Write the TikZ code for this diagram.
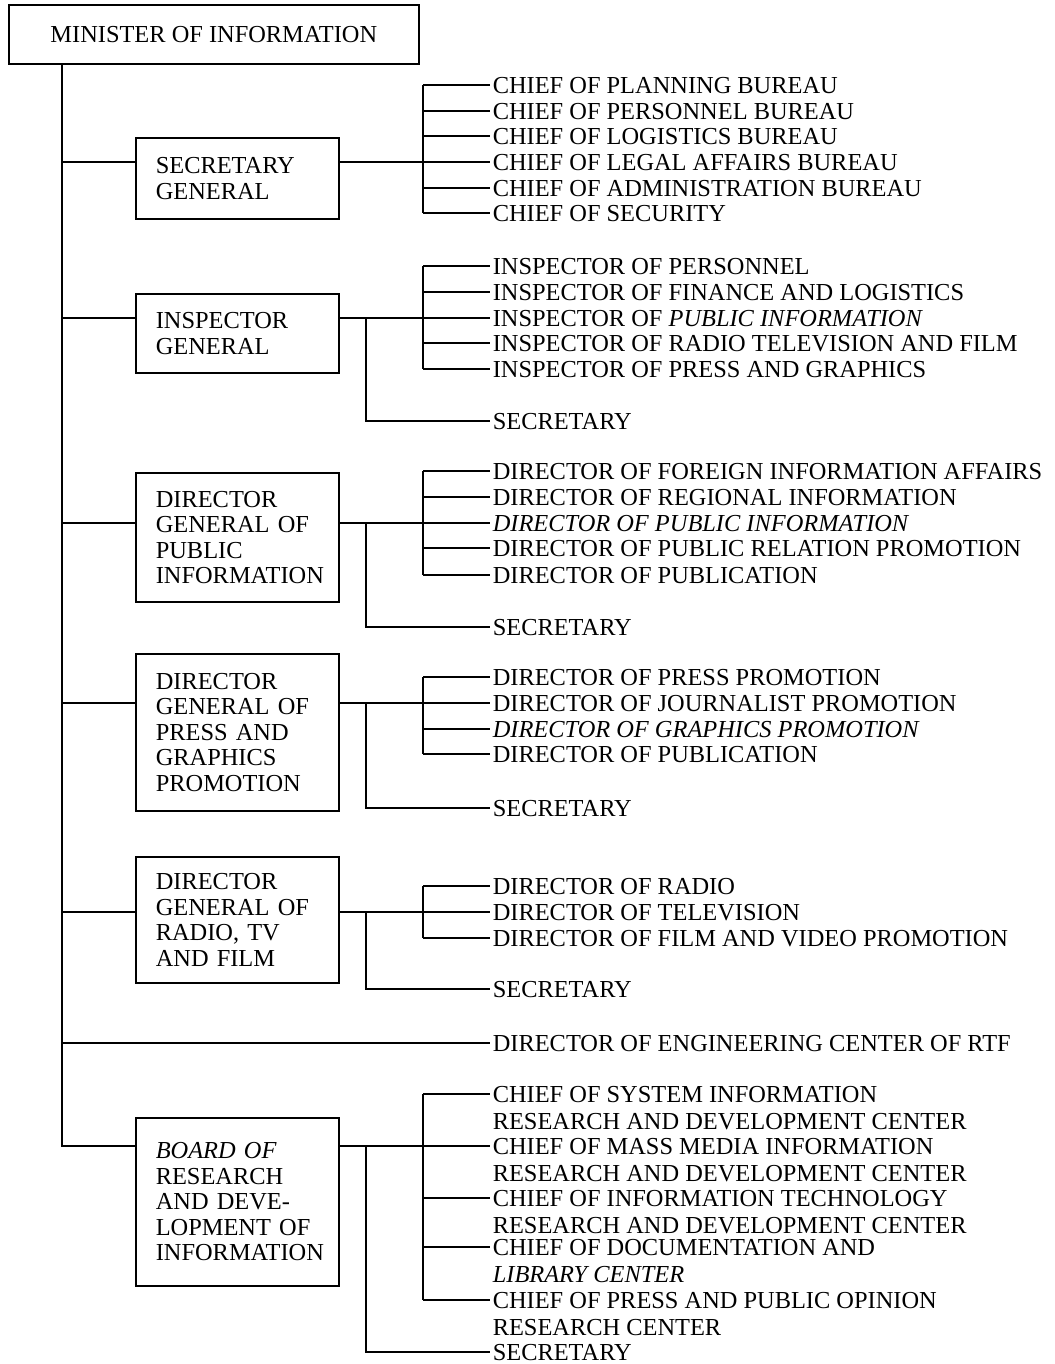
\documentclass[tikz,border=0pt]{standalone}
\usepackage{fontspec}
\setmainfont{Liberation Serif}
\usepackage{tikz}
\usetikzlibrary{positioning,calc}

\begin{document}
\begin{tikzpicture}[x=0.5pt, y=-0.5pt, line width=0.8pt,
    font=\fontsize{12.2}{12.75}\selectfont,
    office/.style={draw, anchor=north west, minimum width=101.5pt, text width=81.5pt, inner xsep=10pt, align=left},
    item/.style={anchor=west, inner xsep=1pt, inner ysep=2.45pt, text height=8.1pt, text depth=0pt},
    more/.style={item, anchor=north west}]
    \useasboundingbox (0,0) rectangle (1054,1364);

    % minister and trunk
    \node[draw, anchor=north west, minimum width=205pt, minimum height=29.5pt] (min) at (8,4) {MINISTER OF INFORMATION};
    \coordinate (trunk) at (62,0);
    \coordinate (br) at (423,0);
    \coordinate (sv) at (366,0);

    % secretary general
    \node[office, minimum height=40.5pt] (sg) at (135,137) {SECRETARY\\GENERAL};
    \foreach \n/\y/\txt in {1/85/CHIEF OF PLANNING BUREAU, 2/111/CHIEF OF PERSONNEL BUREAU,
        3/136/CHIEF OF LOGISTICS BUREAU, 4/162/CHIEF OF LEGAL AFFAIRS BUREAU,
        5/188/CHIEF OF ADMINISTRATION BUREAU, 6/213/CHIEF OF SECURITY} {
        \node[item] (sg\n) at (490,\y) {\txt};
        \draw (sg\n.west -| br) -- (sg\n.west);
    }
    \draw (sg1.west -| br) -- (sg6.west -| br);
    \draw (sg4.west -| trunk) -- (sg4.west -| sg.west);
    \draw (sg4.west -| sg.east) -- (sg4.west -| br);

    % inspector general
    \node[office, minimum height=39.5pt] (ig) at (135,293) {INSPECTOR\\GENERAL};
    \foreach \n/\y/\txt in {1/266/INSPECTOR OF PERSONNEL, 2/292/INSPECTOR OF FINANCE AND LOGISTICS,
        3/318/INSPECTOR OF \textit{PUBLIC INFORMATION}, 4/343/INSPECTOR OF RADIO TELEVISION AND FILM,
        5/369/INSPECTOR OF PRESS AND GRAPHICS} {
        \node[item] (ig\n) at (490,\y) {\txt};
        \draw (ig\n.west -| br) -- (ig\n.west);
    }
    \node[item] (igs) at (490,421) {SECRETARY};
    \draw (ig1.west -| br) -- (ig5.west -| br);
    \draw (ig3.west -| trunk) -- (ig3.west -| ig.west);
    \draw (ig3.west -| ig.east) -- (ig3.west -| br);
    \draw (ig3.west -| sv) |- (igs.west);

    % director general of public information
    \node[office, minimum height=64.5pt] (pi) at (135,472) {DIRECTOR\\GENERAL OF\\PUBLIC\\INFORMATION};
    \foreach \n/\y/\txt in {1/471/DIRECTOR OF FOREIGN INFORMATION AFFAIRS, 2/497/DIRECTOR OF REGIONAL INFORMATION,
        3/523/\textit{DIRECTOR OF PUBLIC INFORMATION}, 4/548/DIRECTOR OF PUBLIC RELATION PROMOTION,
        5/575/DIRECTOR OF PUBLICATION} {
        \node[item] (pi\n) at (490,\y) {\txt};
        \draw (pi\n.west -| br) -- (pi\n.west);
    }
    \node[item] (pis) at (490,627) {SECRETARY};
    \draw (pi1.west -| br) -- (pi5.west -| br);
    \draw (pi3.west -| trunk) -- (pi3.west -| pi.west);
    \draw (pi3.west -| pi.east) -- (pi3.west -| br);
    \draw (pi3.west -| sv) |- (pis.west);

    % director general of press and graphics promotion
    \node[office, minimum height=78.5pt] (pg) at (135,653) {DIRECTOR\\GENERAL OF\\PRESS AND\\GRAPHICS\\PROMOTION};
    \foreach \n/\y/\txt in {1/677/DIRECTOR OF PRESS PROMOTION, 2/703/DIRECTOR OF JOURNALIST PROMOTION,
        3/729/\textit{DIRECTOR OF GRAPHICS PROMOTION}, 4/754/DIRECTOR OF PUBLICATION} {
        \node[item] (pg\n) at (490,\y) {\txt};
        \draw (pg\n.west -| br) -- (pg\n.west);
    }
    \node[item] (pgs) at (490,808) {SECRETARY};
    \draw (pg1.west -| br) -- (pg4.west -| br);
    \draw (pg2.west -| trunk) -- (pg2.west -| pg.west);
    \draw (pg2.west -| pg.east) -- (pg2.west -| br);
    \draw (pg2.west -| sv) |- (pgs.west);

    % director general of radio, tv and film
    \node[office, minimum height=63pt] (rtf) at (135,856) {DIRECTOR\\GENERAL OF\\RADIO, TV\\AND FILM};
    \foreach \n/\y/\txt in {1/886/DIRECTOR OF RADIO, 2/912/DIRECTOR OF TELEVISION,
        3/938/DIRECTOR OF FILM AND VIDEO PROMOTION} {
        \node[item] (rtf\n) at (490,\y) {\txt};
        \draw (rtf\n.west -| br) -- (rtf\n.west);
    }
    \node[item] (rtfs) at (490,989) {SECRETARY};
    \draw (rtf1.west -| br) -- (rtf3.west -| br);
    \draw (rtf2.west -| trunk) -- (rtf2.west -| rtf.west);
    \draw (rtf2.west -| rtf.east) -- (rtf2.west -| br);
    \draw (rtf2.west -| sv) |- (rtfs.west);

    % engineering center
    \node[item] (eng) at (490,1043) {DIRECTOR OF ENGINEERING CENTER OF RTF};
    \draw (eng.west -| trunk) -- (eng.west);

    % board of research and development
    \node[office, minimum height=84pt] (bd) at (135,1117) {\textit{BOARD OF}\\RESEARCH\\AND DEVE-\\LOPMENT OF\\INFORMATION};
    \foreach \n/\y/\txt/\txtb in {1/1094/CHIEF OF SYSTEM INFORMATION/RESEARCH AND DEVELOPMENT CENTER,
        2/1146/CHIEF OF MASS MEDIA INFORMATION/RESEARCH AND DEVELOPMENT CENTER,
        3/1198/CHIEF OF INFORMATION TECHNOLOGY/RESEARCH AND DEVELOPMENT CENTER,
        4/1247/CHIEF OF DOCUMENTATION AND/\textit{LIBRARY CENTER},
        5/1300/CHIEF OF PRESS AND PUBLIC OPINION/RESEARCH CENTER} {
        \node[item] (bd\n) at (490,\y) {\txt};
        \node[more] (bd\n x) at (bd\n.south west) {\txtb};
        \draw (bd\n.west -| br) -- (bd\n.west);
    }
    \node[item] (bds) at (490,1352) {SECRETARY};
    \draw (bd1.west -| br) -- (bd5.west -| br);
    \draw (bd2.west -| bd.east) -- (bd2.west -| br);
    \draw (bd2.west -| sv) |- (bds.west);

    % trunk line down to the board
    \draw[line width=1.1pt] (min.south -| trunk) |- (bd2.west -| bd.west);
\end{tikzpicture}
\end{document}
